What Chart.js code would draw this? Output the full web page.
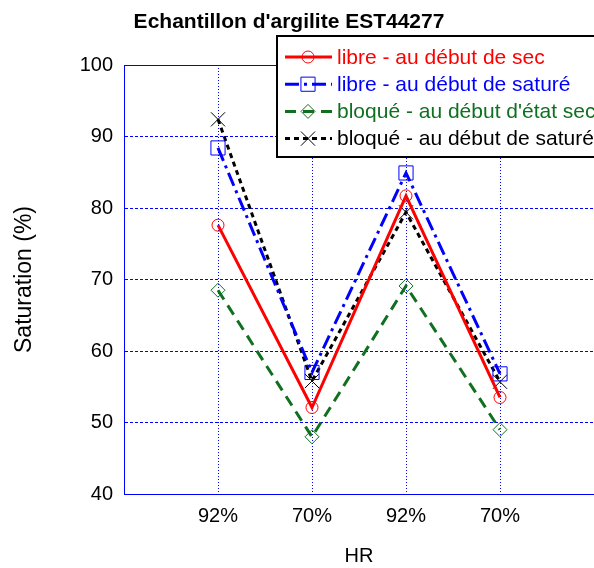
<!DOCTYPE html>
<html>
<head>
<meta charset="utf-8">
<script src="https://cdn.jsdelivr.net/npm/chart.js@4/dist/chart.umd.min.js"></script>
<style>
  body { margin: 0; background: #fff; }
  canvas { display: block; }
</style>
</head>
<body>
<canvas id="saturation" width="594" height="568"></canvas>
<script>
const chartTitle = "Echantillon d'argilite EST44277"
const hrLabels = ['', '92%', '70%', '92%', '70%', '']
const libreSec = [null, 77.6, 52.1, 81.7, 53.5, null]
const libreSature = [null, 88.4, 57.0, 84.9, 56.8, null]
const bloqueSec = [null, 68.5, 48.0, 69.1, 49.0, null]
const bloqueSature = [null, 92.4, 55.8, 79.4, 55.7, null]
const yTicks = [40, 50, 60, 70, 80, 90, 100]

const FONT = "'Liberation Sans', Arial, sans-serif"
const GREEN = 'rgb(16, 112, 32)'

Chart.defaults.font.family = FONT
Chart.defaults.color = '#000'

const makeDataset = (label, data, color, dash, pointStyle, radius) => ({
    label: label,
    data: data,
    borderColor: color,
    borderWidth: 3,
    borderDash: dash,
    pointStyle: pointStyle,
    pointRadius: radius,
    pointHoverRadius: radius,
    pointBorderColor: color,
    pointBackgroundColor: 'rgba(0,0,0,0)',
    pointBorderWidth: 1,
    tension: 0,
    fill: false,
})

// title, top border and the legend box drawn over the plot like the original figure
const figureDecor = {
    id: 'figureDecor',
    beforeDatasetsDraw(chart) {
        const {ctx, chartArea} = chart
        ctx.save()
        ctx.strokeStyle = '#0000ff'
        ctx.lineWidth = 1
        ctx.beginPath()
        ctx.moveTo(chartArea.left, chartArea.top + 0.5)
        ctx.lineTo(chartArea.right, chartArea.top + 0.5)
        ctx.stroke()
        ctx.restore()
    },
    afterDraw(chart) {
        const ctx = chart.ctx
        ctx.save()
        ctx.font = 'bold 21px ' + FONT
        ctx.fillStyle = '#000'
        ctx.textAlign = 'center'
        ctx.textBaseline = 'middle'
        ctx.fillText(chartTitle, 289, 22)

        const left = 277, top = 36, height = 121
        const rowY = 57, rowStep = 27.2
        ctx.fillStyle = '#fff'
        ctx.fillRect(left, top, 340, height)
        ctx.strokeStyle = '#000'
        ctx.lineWidth = 2
        ctx.strokeRect(left, top, 340, height)
        ctx.font = '21px ' + FONT
        ctx.textAlign = 'left'
        chart.data.datasets.forEach((ds, i) => {
            const y = rowY + i * rowStep
            ctx.strokeStyle = ds.borderColor
            ctx.lineWidth = 3
            ctx.setLineDash(ds.borderDash)
            ctx.beginPath()
            ctx.moveTo(285, y)
            ctx.lineTo(332, y)
            ctx.stroke()
            ctx.setLineDash([])
            ctx.lineWidth = 1
            ctx.fillStyle = 'rgba(0,0,0,0)'
            Chart.helpers.drawPoint(ctx, {
                pointStyle: ds.pointStyle,
                radius: ds.pointRadius,
                rotation: 0,
                borderWidth: 1,
            }, 308, y)
            ctx.fillStyle = ds.borderColor
            ctx.fillText(ds.label, 337, y + 1)
        })
        ctx.restore()
    }
}

const ctx = document.getElementById('saturation').getContext('2d')
const lineChart = new Chart(ctx, {
    type: 'line',
    data: {
        labels: hrLabels,
        datasets: [
            makeDataset('libre - au début de sec', libreSec, '#ff0000', [], 'circle', 6),
            makeDataset('libre - au début de saturé', libreSature, '#0000ff', [14, 5, 3, 5], 'rect', 10),
            makeDataset("bloqué - au début d'état sec", bloqueSec, GREEN, [11, 7], 'rectRot', 7),
            makeDataset('bloqué - au début de saturé', bloqueSature, '#000000', [5, 4], 'crossRot', 10),
        ],
    },
    options: {
        responsive: false,
        animation: false,
        layout: {autoPadding: false, padding: {left: 0, right: 0, top: 65, bottom: 0}},
        plugins: {
            legend: {display: false},
            tooltip: {enabled: false},
            title: {display: false},
        },
        scales: {
            x: {
                type: 'category',
                offset: false,
                grid: {color: '#0000ff', lineWidth: 1, drawTicks: false},
                border: {color: '#0000ff', width: 1, dash: [1, 2]},
                ticks: {font: {size: 20}, color: '#000', padding: 10, autoSkip: false, maxRotation: 0},
                title: {display: true, text: 'HR', font: {size: 20}, color: '#000', padding: {top: 0, bottom: 0}},
                afterFit: (scale) => {
                    scale.height = 74
                    scale.paddingLeft = 0
                    scale.paddingRight = 0
                },
            },
            y: {
                min: 40,
                max: 100,
                afterBuildTicks: (scale) => { scale.ticks = yTicks.map(v => ({value: v})) },
                grid: {color: '#0000ff', lineWidth: 1, drawTicks: false},
                border: {color: '#0000ff', width: 1, dash: [3, 2]},
                ticks: {font: {size: 20}, color: '#000', padding: 11},
                title: {display: true, text: 'Saturation (%)', font: {size: 23}, color: '#000', padding: {top: 11, bottom: 0}},
                afterFit: (scale) => { scale.width = 124 },
            },
        },
    },
    plugins: [figureDecor],
})
</script>
</body>
</html>
